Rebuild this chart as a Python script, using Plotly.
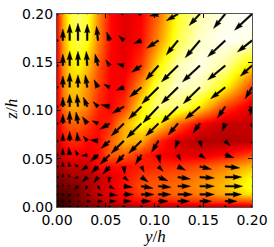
import math
import plotly.graph_objects as go

# grid positions (y/h and z/h share the same stretched grid)
grid = [0.0003, 0.006, 0.013, 0.0215, 0.031, 0.042, 0.054, 0.0685,
        0.0865, 0.104, 0.124, 0.1465, 0.1725, 0.2]
ticks = [0.0, 0.05, 0.10, 0.15, 0.20]
tick_text = ["0.00", "0.05", "0.10", "0.15", "0.20"]

# secondary-flow vectors below the bisector (row j = z index, entries for i = j..13)
low_u = [
    [0] * 14,
    [-1, 1.5, 2.5, 3.5, 5, 7, 8, 10, 10, 12, 12, 12, 13],
    [-2, 1, 3, 5, 8, 10, 13, 13, 15, 15, 17, 18],
    [-3.5, -1.5, 2, 5, 9, 12, 13, 13, 15, 18, 19],
    [-5, -4, -1, 5, 7, 10, 13, 15, 17, 18],
    [-7, -7, 1, 3, 5, 8, 12, 15, 15],
    [-10, -8, -6, 2, 3, 6, 9, 10],
    [-13, -13, -7, -3, 2, 5, 6],
    [-15, -13, -10, -7, -3, 2],
    [-16, -17, -15, -8, -2],
    [-17, -17, -15, -7],
    [-18, -18, -12],
    [-18, -15],
    [-18],
]
low_v = [
    [0] * 14,
    [-1, -0.5, 0, 0, 0, 0, 0, 0, 0, 0, 0, 0, 0],
    [-2, -2, -1.5, -1, -1, 0, 0, 0, 0, 0, 0, 0],
    [-3.5, -3.5, -3.5, -3, -1, -2, -1, 0, 0, 0, 0],
    [-5, -6, -6, -4, -5, -4, -2, -1, 0, -1],
    [-7, -8, -8, -6, -5, -4, -3, -1.5, -2],
    [-10, -9, -10, -9, -6, -4, -3, -3],
    [-13, -13, -12, -8, -7, -5, -5],
    [-15, -13, -12, -10, -8, -7],
    [-17, -17, -13, -12, -9],
    [-17, -17, -12, -12],
    [-17, -15, -11],
    [-17, -12],
    [-17],
]

# colour field (rows = z index, columns = y index)
field = [
    [0.05, 0.07, 0.10, 0.12, 0.15, 0.17, 0.19, 0.21, 0.23, 0.24, 0.25, 0.26, 0.27, 0.28],
    [0.07, 0.08, 0.12, 0.16, 0.20, 0.25, 0.30, 0.34, 0.38, 0.40, 0.42, 0.44, 0.46, 0.50],
    [0.10, 0.12, 0.12, 0.17, 0.22, 0.28, 0.33, 0.38, 0.45, 0.48, 0.52, 0.55, 0.62, 0.72],
    [0.13, 0.16, 0.17, 0.18, 0.23, 0.28, 0.33, 0.40, 0.48, 0.50, 0.53, 0.58, 0.65, 0.78],
    [0.16, 0.20, 0.22, 0.23, 0.25, 0.28, 0.32, 0.38, 0.45, 0.48, 0.50, 0.55, 0.62, 0.75],
    [0.20, 0.26, 0.28, 0.28, 0.29, 0.38, 0.38, 0.38, 0.40, 0.42, 0.44, 0.48, 0.55, 0.65],
    [0.24, 0.32, 0.35, 0.35, 0.34, 0.38, 0.50, 0.50, 0.42, 0.36, 0.33, 0.33, 0.38, 0.48],
    [0.28, 0.38, 0.42, 0.42, 0.38, 0.37, 0.50, 0.64, 0.62, 0.42, 0.30, 0.25, 0.25, 0.27],
    [0.31, 0.44, 0.50, 0.50, 0.45, 0.38, 0.42, 0.62, 0.76, 0.72, 0.50, 0.35, 0.28, 0.28],
    [0.34, 0.52, 0.62, 0.62, 0.55, 0.42, 0.36, 0.45, 0.72, 0.88, 0.86, 0.70, 0.45, 0.32],
    [0.35, 0.55, 0.66, 0.66, 0.58, 0.46, 0.36, 0.37, 0.60, 0.84, 0.95, 0.92, 0.74, 0.45],
    [0.36, 0.58, 0.70, 0.74, 0.66, 0.50, 0.36, 0.33, 0.45, 0.72, 0.93, 0.98, 0.90, 0.68],
    [0.38, 0.60, 0.76, 0.82, 0.76, 0.56, 0.38, 0.32, 0.38, 0.58, 0.82, 0.95, 0.99, 0.97],
    [0.38, 0.62, 0.80, 0.85, 0.80, 0.58, 0.38, 0.32, 0.36, 0.52, 0.78, 0.92, 0.98, 1.00],
]

n = len(grid)
U = [[0.0] * n for _ in range(n)]
V = [[0.0] * n for _ in range(n)]
for j in range(n):
    for i in range(n):
        if i >= j:
            U[j][i] = low_u[j][i - j]
            V[j][i] = low_v[j][i - j]
        else:  # mirror about the corner bisector
            U[j][i] = low_v[i][j - i]
            V[j][i] = low_u[i][j - i]

# plot geometry (pixels) used for the arrow glyph shape
W_FIG, H_FIG = 274, 247
ML, MR, MT, MB = 57, 17, 6, 40
PW, PH = W_FIG - ML - MR, H_FIG - MT - MB
SX = 0.2 / PW
SY = 0.2 / PH

WID = 1.8           # shaft width (px)
HL, HAL, HW = 5.0, 4.5, 3.0
MINSH = HL

xs, ys = [], []
for j in range(n):
    for i in range(n):
        u, v = U[j][i], V[j][i]
        L = math.hypot(u, v) / WID
        if L < 1:
            pts = [(math.cos(k * math.pi / 3) * 0.65, math.sin(k * math.pi / 3) * 0.65) for k in range(6)]
            ang = 0.0
        else:
            if L < MINSH:
                s = L / MINSH
                px = [0, (MINSH - HAL) * s, (MINSH - HL) * s, MINSH * s]
                py = [0.5 * s, 0.5 * s, 0.5 * HW * s, 0]
            else:
                px = [0, L - HAL, L - HL, L]
                py = [0.5, 0.5, 0.5 * HW, 0]
            pts = [(px[0], py[0]), (px[1], py[1]), (px[2], py[2]), (px[3], 0),
                   (px[2], -py[2]), (px[1], -py[1]), (px[0], -py[0])]
            ang = math.atan2(v, u)
        ca, sa = math.cos(ang), math.sin(ang)
        for (a, b) in pts:
            rx = (a * ca - b * sa) * WID
            ry = (a * sa + b * ca) * WID
            xs.append(grid[i] + rx * SX)
            ys.append(grid[j] + ry * SY)
        xs.append(xs[-len(pts)])
        ys.append(ys[-len(pts)])
        xs.append(None)
        ys.append(None)

hot = [[0.0, "rgb(10,0,0)"], [0.365, "rgb(255,0,0)"],
       [0.746, "rgb(255,255,0)"], [1.0, "rgb(255,255,255)"]]

fig = go.Figure()
fig.add_trace(go.Heatmap(x=grid, y=grid, z=field, colorscale=hot, zmin=0, zmax=1,
                         zsmooth="best", showscale=False, hoverinfo="skip"))
fig.add_trace(go.Scatter(x=xs, y=ys, mode="lines", fill="toself", fillcolor="black",
                         line=dict(color="black", width=0.4), hoverinfo="skip",
                         showlegend=False))

axis_common = dict(range=[-1e-7, 0.2 + 1e-7], tickvals=ticks, ticktext=tick_text,
                   ticks="inside", ticklen=4, tickcolor="black", showline=True,
                   linecolor="#555555", linewidth=1, mirror="ticks", showgrid=False,
                   zeroline=False, ticklabeloverflow="allow",
                   tickfont=dict(family="DejaVu Sans", size=14, color="black"))
fig.update_xaxes(**axis_common)
fig.update_yaxes(**axis_common)

fig.update_layout(
    width=W_FIG, height=H_FIG,
    margin=dict(l=ML, r=MR, t=MT, b=MB),
    paper_bgcolor="white", plot_bgcolor="white",
    showlegend=False,
    annotations=[
        dict(text="<i>y</i>/<i>h</i>", xref="paper", yref="paper", x=0.5, y=-0.152,
             xanchor="center", yanchor="middle", showarrow=False,
             font=dict(family="Liberation Serif", size=17, color="black")),
        dict(text="<i>z</i>/<i>h</i>", xref="paper", yref="paper", x=-0.235, y=0.505,
             xanchor="center", yanchor="middle", showarrow=False, textangle=-90,
             font=dict(family="Liberation Serif", size=17, color="black")),
    ],
)

fig.write_html("out.html", config={"displayModeBar": False},
               post_script="document.body.style.margin='0';document.body.style.padding='0';")
